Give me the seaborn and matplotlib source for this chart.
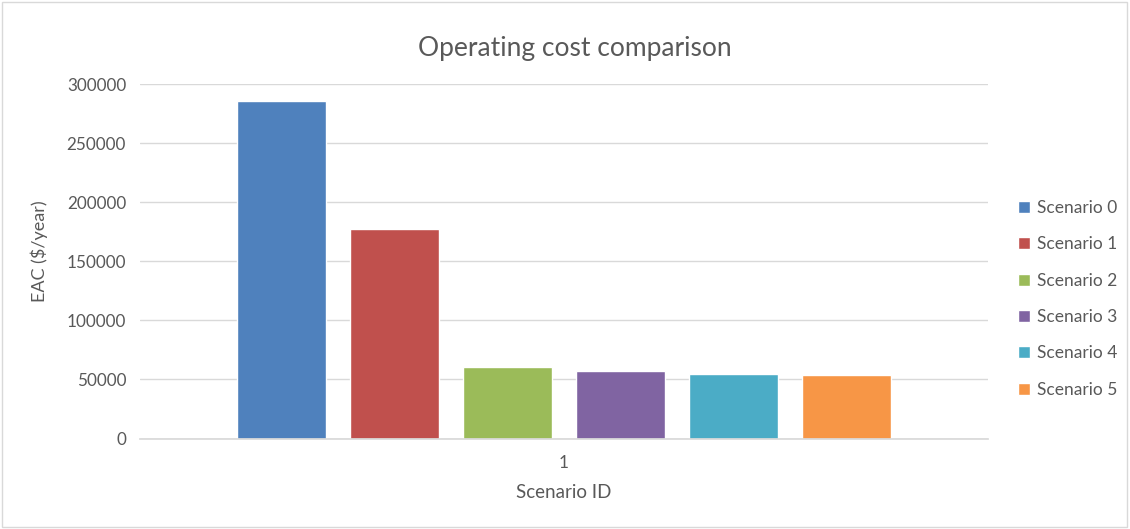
import matplotlib.pyplot as plt
import pandas as pd
import seaborn as sns
from matplotlib.patches import Rectangle

scenarios = ["Scenario 0", "Scenario 1", "Scenario 2", "Scenario 3", "Scenario 4", "Scenario 5"]
eac = [285300, 177400, 60800, 57400, 55000, 54000]
scenario_id = ["1"] * len(scenarios)
colors = ["#4F81BD", "#C0504D", "#9BBB59", "#8064A2", "#4BACC6", "#F79646"]

df = pd.DataFrame({"Scenario ID": scenario_id, "Scenario": scenarios, "EAC": eac})

sns.set_theme(style="white")
plt.rcParams["font.family"] = ["Lato", "DejaVu Sans"]

text_color = "#595959"
grid_color = "#D9D9D9"

fig = plt.figure(figsize=(11.3, 5.29), dpi=100)
ax = fig.add_axes([0.1239, 0.171, 0.7505, 0.67])

sns.barplot(
    data=df,
    x="Scenario ID",
    y="EAC",
    hue="Scenario",
    palette=colors,
    width=0.8,
    gap=0.21,
    saturation=1,
    ax=ax,
)

ax.set_ylim(0, 300000)
ax.set_yticks(range(0, 300001, 50000))
ax.yaxis.grid(True, color=grid_color, linewidth=1)
ax.set_axisbelow(True)
for side in ["left", "right", "top"]:
    ax.spines[side].set_visible(False)
ax.spines["bottom"].set_color(grid_color)
ax.tick_params(axis="both", length=0, labelsize=12.3, labelcolor=text_color)
ax.tick_params(axis="y", pad=10)
ax.tick_params(axis="x", pad=12)

ax.set_title("Operating cost comparison", fontsize=19, color=text_color, pad=20, x=0.513)
ax.set_ylabel(r"EAC (\$/year)", fontsize=13, color=text_color)
ax.yaxis.set_label_coords(-0.108, 0.53)
ax.set_xlabel("Scenario ID", fontsize=13.5, color=text_color, labelpad=9)

handles, labels = ax.get_legend_handles_labels()
ax.legend(
    handles,
    labels,
    loc="center left",
    bbox_to_anchor=(0.887, 0.435),
    bbox_transform=fig.transFigure,
    frameon=False,
    fontsize=12.5,
    labelcolor=text_color,
    handlelength=0.7,
    handleheight=0.7,
    handletextpad=0.4,
    labelspacing=1.17,
)

fig.patches.append(
    Rectangle((0.002, 0.003), 0.995, 0.994, transform=fig.transFigure,
              fill=False, edgecolor="#D9D9D9", linewidth=1)
)

fig.savefig("out.png", dpi=100)
